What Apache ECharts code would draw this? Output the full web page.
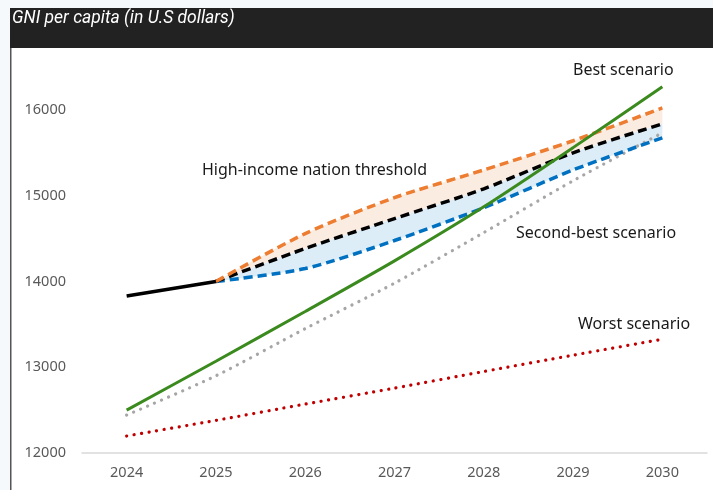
<!DOCTYPE html>
<html><head><meta charset="utf-8">
<script src="https://cdn.jsdelivr.net/npm/echarts@6/dist/echarts.min.js"></script>
<style>html,body{margin:0;padding:0;background:#f6f9fc;}#c{width:713px;height:490px;}</style>
</head><body><div id="c"></div>
<script>
const years = ['2024','2025','2026','2027','2028','2029','2030'];
const historical = [13830, 14000, null, null, null, null, null];
const thresholdMid = [null, 14000, 14384, 14733, 15080, 15500, 15837];
const thresholdHigh = [null, 14000, 14558, 14977, 15300, 15640, 16023];
const thresholdLow = [null, 14000, 14150, 14477, 14860, 15300, 15674];
const bestScenario = [12500, 13070, 13650, 14240, 14870, 15560, 16270];
const secondBest = [12442, 12900, 13450, 13980, 14570, 15174, 15733];
const worstScenario = [12198, 12380, 12570, 12756, 12950, 13140, 13326];
const yTicks = [12000, 13000, 14000, 15000, 16000];

const font = '"Noto Sans", "Open Sans", sans-serif';
const diffLow = thresholdMid.map((v, i) => v == null ? null : v - thresholdLow[i]);
const diffHigh = thresholdHigh.map((v, i) => v == null ? null : v - thresholdMid[i]);

const chart = echarts.init(document.getElementById('c'));
function lineS(name, data, color, width, dash, z, cap) {
  return {name, type: 'line', data, symbol: 'none', z: z, smooth: 0.25,
    lineStyle: {color, width, type: dash, cap: cap || 'butt'}, silent: true};
}
const hidden = {opacity: 0, width: 0};
chart.setOption({
  animation: false,
  backgroundColor: '#f6f9fc',
  grid: {left: 82, right: 6, top: 67, bottom: 37},
  xAxis: {type: 'category', data: years, boundaryGap: true,
    axisLine: {lineStyle: {color: '#d9d9d9', width: 1.5}}, axisTick: {show: false},
    axisLabel: {color: '#595959', fontSize: 14.5, fontFamily: font, margin: 12}},
  yAxis: {type: 'value', min: yTicks[0], max: 16500, interval: 1000,
    splitLine: {show: false}, axisLine: {show: false}, axisTick: {show: false},
    axisLabel: {color: '#595959', fontSize: 14.5, fontFamily: font, margin: 16,
      formatter: v => yTicks.includes(v) ? String(v) : ''}},
  graphic: [
    {type: 'rect', shape: {x: 10, y: 8, width: 703, height: 40}, style: {fill: '#222222'}, z: -10},
    {type: 'rect', shape: {x: 11, y: 48, width: 702, height: 442}, style: {fill: '#ffffff'}, z: -10},
    {type: 'rect', shape: {x: 10, y: 48, width: 1.5, height: 442}, style: {fill: '#555555'}, z: -9},
    {type: 'text', x: 12, y: 10, style: {text: 'GNI per capita (in U.S dollars)', fill: '#ffffff',
      font: 'italic 17.5px "Roboto", sans-serif'}, z: 10},
    {type: 'text', x: 573, y: 62, style: {text: 'Best scenario', fill: '#1a1a1a', font: '16px ' + font}, z: 10},
    {type: 'text', x: 202, y: 162, style: {text: 'High-income nation threshold', fill: '#1a1a1a', font: '16px ' + font}, z: 10},
    {type: 'text', x: 516, y: 225, style: {text: 'Second-best scenario', fill: '#1a1a1a', font: '16px ' + font}, z: 10},
    {type: 'text', x: 578, y: 316, style: {text: 'Worst scenario', fill: '#1a1a1a', font: '16px ' + font}, z: 10}
  ],
  series: [
    {name: 'base', type: 'line', stack: 'band', data: thresholdLow, symbol: 'none', smooth: 0.25, lineStyle: hidden, silent: true, z: 1},
    {name: 'bandLow', type: 'line', stack: 'band', data: diffLow, symbol: 'none', smooth: 0.25, lineStyle: hidden, silent: true, z: 1,
      areaStyle: {color: '#dcedf8', opacity: 1}},
    {name: 'bandHigh', type: 'line', stack: 'band', data: diffHigh, symbol: 'none', smooth: 0.25, lineStyle: hidden, silent: true, z: 1,
      areaStyle: {color: '#fbece2', opacity: 1}},
    lineS('Worst', worstScenario, '#c00000', 3.2, [0.1, 7.5], 3, 'round'),
    lineS('Second-best', secondBest, '#a6a6a6', 3.2, [0.1, 7.5], 3, 'round'),
    lineS('Low', thresholdLow, '#0070c0', 3.5, [9, 5], 4),
    lineS('Mid', thresholdMid, '#000000', 3.5, [9, 5], 4),
    lineS('High', thresholdHigh, '#ed7d31', 3.5, [9, 5], 4),
    lineS('Best', bestScenario, '#3b8a1e', 3, 'solid', 5),
    lineS('Historical', historical, '#000000', 3.5, 'solid', 5)
  ]
});
</script></body></html>
